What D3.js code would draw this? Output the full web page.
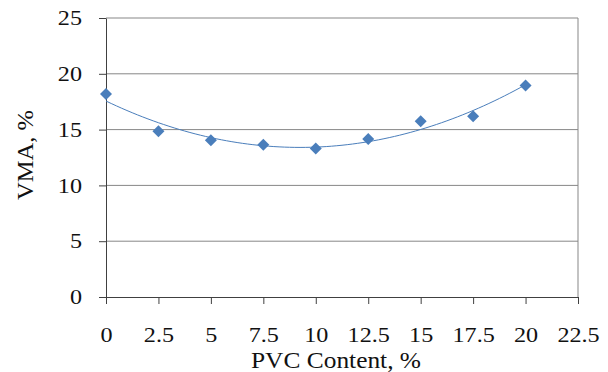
<!DOCTYPE html>
<html><head><meta charset="utf-8">
<script src="https://cdn.jsdelivr.net/npm/d3@7"></script>
<style>body{margin:0;background:#fff}svg{display:block}</style>
</head><body>
<svg id="c" width="608" height="372" font-family="Liberation Serif" style="font-family:Liberation Serif"></svg>
<script>
const pvcContent = [0, 2.5, 5, 7.5, 10, 12.5, 15, 17.5, 20];
const vma = [18.2, 14.85, 14.05, 13.65, 13.3, 14.15, 15.75, 16.2, 18.95];
const xTicks = [0, 2.5, 5, 7.5, 10, 12.5, 15, 17.5, 20, 22.5];
const yTicks = [0, 5, 10, 15, 20, 25];

const svg = d3.select("#c");
const m = {l:106, r:578, t:18, b:297};
const x = d3.scaleLinear().domain([0, 22.5]).range([m.l, m.r]);
const y = d3.scaleLinear().domain([0, 25]).range([m.b, m.t]);
const serifFamily = "Liberation Serif";

// gridlines
svg.append("g").selectAll("line").data(yTicks.filter(d=>d>0)).join("line")
  .attr("x1", m.l).attr("x2", m.r).attr("y1", d=>y(d)).attr("y2", d=>y(d))
  .attr("stroke", "#878787").attr("stroke-width", 1);
// right border
svg.append("line").attr("x1", m.r).attr("x2", m.r).attr("y1", m.t).attr("y2", m.b)
  .attr("stroke", "#878787");

// axes
const yAxis = svg.append("g").attr("transform", `translate(${m.l},0)`)
  .call(d3.axisLeft(y).tickValues(yTicks).tickSize(7).tickSizeOuter(0).tickPadding(17).tickFormat(d3.format("")));
const xAxis = svg.append("g").attr("transform", `translate(0,${m.b})`)
  .call(d3.axisBottom(x).tickValues(xTicks).tickSize(7).tickSizeOuter(0).tickPadding(23).tickFormat(d3.format("")));
[xAxis, yAxis].forEach(a => {
  a.attr("font-family", serifFamily).style("font-family", serifFamily)
   .attr("font-size", 21).attr("fill", null);
  a.select(".domain").attr("stroke", "#404040");
  a.selectAll(".tick line").attr("stroke", "#404040");
  a.selectAll(".tick text").attr("fill", "#111")
   .attr("font-family", serifFamily).style("font-family", serifFamily)
   .attr("textLength", function(){ return this.getComputedTextLength() * 1.15; })
   .attr("lengthAdjust", "spacingAndGlyphs");
});

// quadratic trendline (least squares fit of the data)
function polyfit2(xs, ys){
  let S=[0,0,0,0,0], T=[0,0,0];
  xs.forEach((xv,i)=>{ for(let k=0;k<5;k++) S[k]+=Math.pow(xv,k); for(let k=0;k<3;k++) T[k]+=ys[i]*Math.pow(xv,k); });
  const A=[[S[0],S[1],S[2],T[0]],[S[1],S[2],S[3],T[1]],[S[2],S[3],S[4],T[2]]];
  for(let i=0;i<3;i++){ for(let j=i+1;j<3;j++){ const f=A[j][i]/A[i][i]; for(let k=i;k<4;k++) A[j][k]-=f*A[i][k]; } }
  const c=[0,0,0];
  for(let i=2;i>=0;i--){ let s=A[i][3]; for(let k=i+1;k<3;k++) s-=A[i][k]*c[k]; c[i]=s/A[i][i]; }
  return c;
}
const coef = polyfit2(pvcContent, vma);
const trendX = d3.range(0, 20.001, 0.25);
svg.append("path").datum(trendX)
  .attr("d", d3.line().x(d=>x(d)).y(d=>y(coef[0]+coef[1]*d+coef[2]*d*d)))
  .attr("fill", "none").attr("stroke", "#4a7ebb").attr("stroke-width", 1);

// markers
svg.append("g").selectAll("path").data(pvcContent.map((d,i)=>[d, vma[i]])).join("path")
  .attr("d", d3.symbol(d3.symbolSquare, 72))
  .attr("transform", d=>`translate(${x(d[0])},${y(d[1])}) rotate(45)`)
  .attr("fill", "#4a7ebb");

// axis titles
svg.append("text").text("PVC Content, %")
  .attr("font-family", serifFamily).style("font-family", serifFamily)
  .attr("font-size", 23).attr("fill", "#111")
  .attr("text-anchor", "middle")
  .attr("textLength", 170).attr("lengthAdjust", "spacingAndGlyphs")
  .attr("x", 336).attr("y", 368);
svg.append("text").text("VMA, %")
  .attr("font-family", serifFamily).style("font-family", serifFamily)
  .attr("font-size", 24).attr("fill", "#111")
  .attr("text-anchor", "middle")
  .attr("textLength", 90).attr("lengthAdjust", "spacingAndGlyphs")
  .attr("transform", "translate(33,155) rotate(-90)");
</script>
</body></html>
